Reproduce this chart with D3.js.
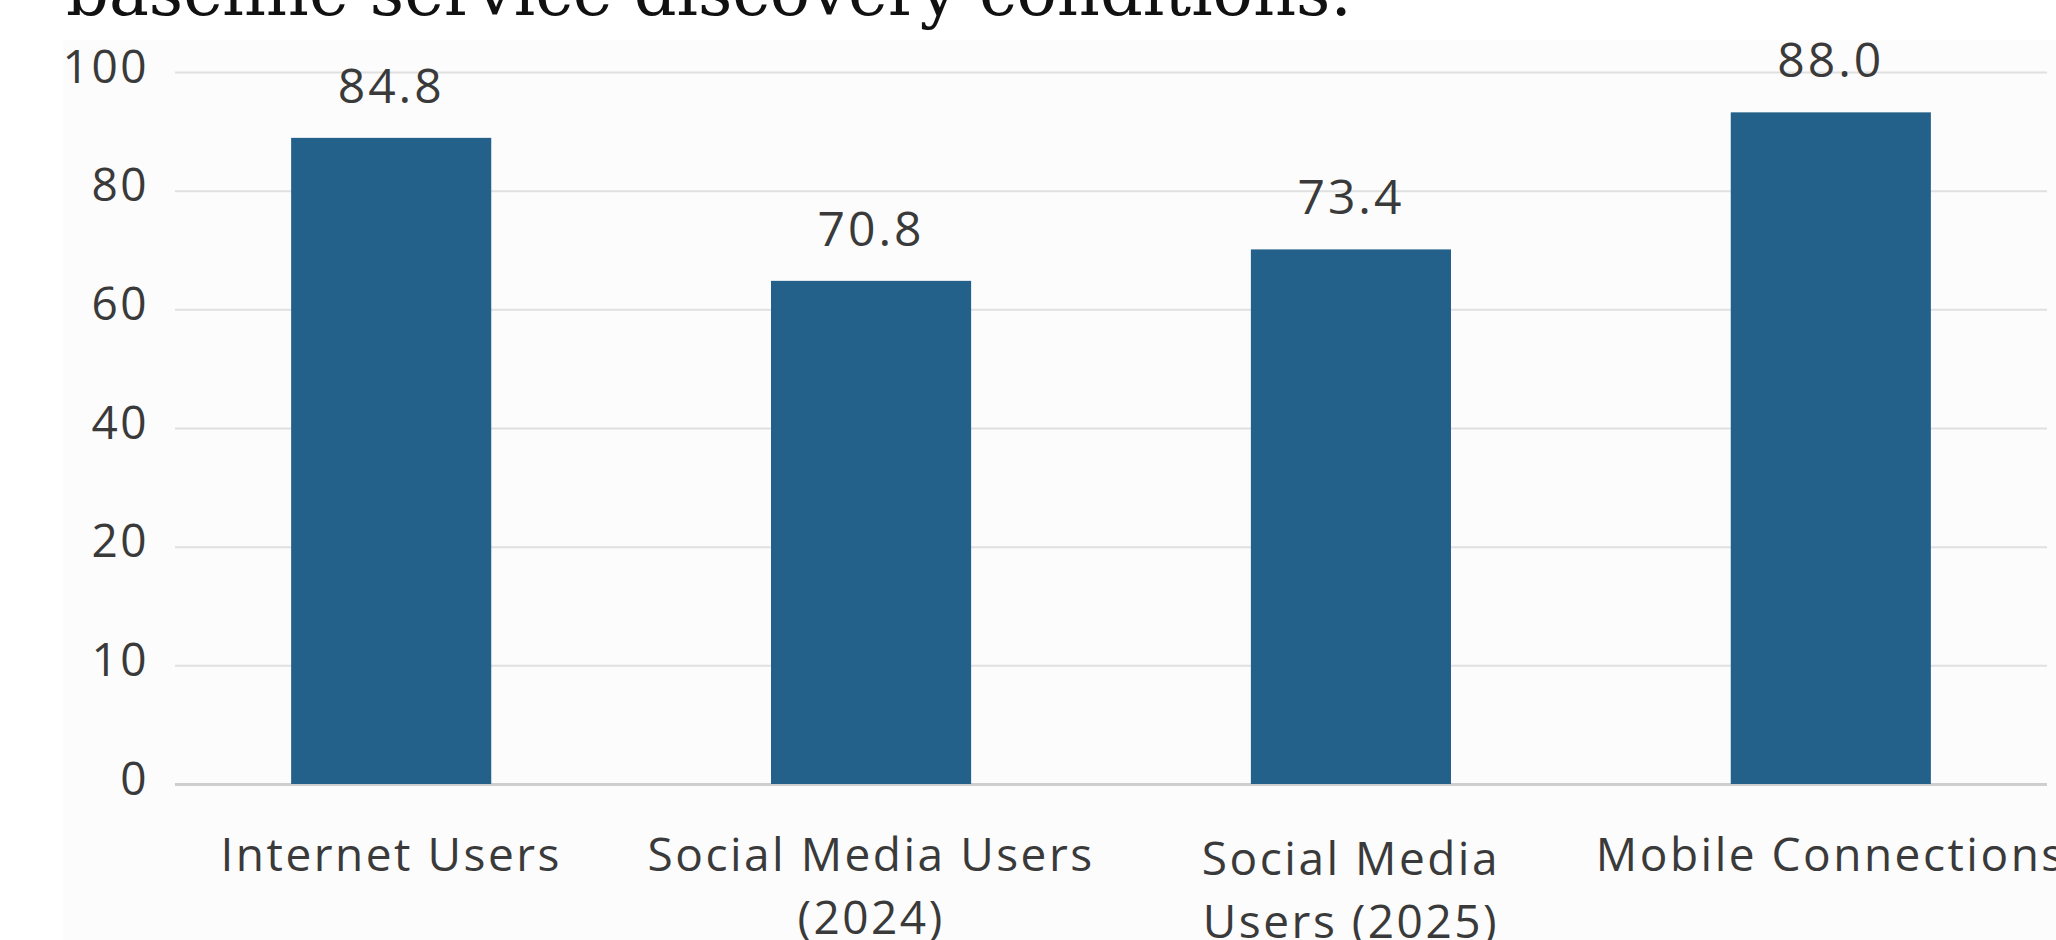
<!DOCTYPE html>
<html>
<head>
<meta charset="utf-8">
<script src="https://cdn.jsdelivr.net/npm/d3@7/dist/d3.min.js"></script>
<style>
  html, body { margin: 0; padding: 0; background: #ffffff; overflow: hidden; }
  svg { display: block; }
  .tick text { font-family: "Open Sans", sans-serif; fill: #3a3a3a; letter-spacing: 2.5px; }
</style>
</head>
<body>
<div id="chart"></div>
<script>
// Données
const categories = [
    ["Internet Users"],
    ["Social Media Users", "(2024)"],
    ["Social Media", "Users (2025)"],
    ["Mobile Connections"]
];
const barValues = [88.9, 64.8, 70.1, 93.2];      // hauteur des barres sur l'axe
const valueLabels = ["84.8", "70.8", "73.4", "88.0"]; // valeurs affichées
const yTicks = [0, 10, 20, 40, 60, 80, 100];
const titleText = "baseline service discovery conditions.";

const W = 2056, H = 940;
const margin = { top: 72, right: 9, bottom: 156, left: 175 };
const width = W - margin.left - margin.right;
const height = H - margin.top - margin.bottom;

const svg = d3.select("#chart")
    .append("svg")
    .attr("width", W)
    .attr("height", H);

// fond légèrement grisé du graphique
svg.append("rect")
    .attr("x", 63).attr("y", 40)
    .attr("width", W - 63).attr("height", H - 40)
    .attr("fill", "#fcfcfc");

// titre coupé en haut (comme sur l'original)
svg.append("text")
    .attr("x", 66)
    .attr("y", 15)
    .attr("font-family", "DejaVu Serif")
    .attr("font-size", 67)
    .attr("fill", "#111")
    .text(titleText);

const g = svg.append("g")
    .attr("transform", `translate(${margin.left},${margin.top})`);

// axe y non linéaire : graduations régulièrement espacées
const step = height / (yTicks.length - 1);
const y = d3.scaleLinear()
    .domain(yTicks)
    .range(yTicks.map((d, i) => height - i * step));

const x = d3.scaleBand()
    .domain(categories.map((d, i) => i))
    .range([0, width])
    .paddingInner(0.583)
    .paddingOuter(0.242);

// grille + étiquettes y
const yAxis = g.append("g")
    .call(d3.axisLeft(y).tickValues(yTicks).tickSize(-width).tickPadding(26).tickFormat(d3.format("d")));
yAxis.select(".domain").remove();
yAxis.selectAll(".tick line")
    .attr("stroke", d => d === 0 ? "#cfcfcf" : "#e0e0e0")
    .attr("stroke-width", d => d === 0 ? 3 : 2);
yAxis.selectAll(".tick text")
    .attr("font-size", 46)
    .attr("dy", 10);

// barres
g.selectAll("rect.bar")
    .data(barValues)
    .enter()
    .append("rect")
    .attr("class", "bar")
    .attr("x", (d, i) => x(i))
    .attr("y", d => y(d))
    .attr("width", x.bandwidth())
    .attr("height", d => y(0) - y(d))
    .attr("fill", "#23608a");

// valeurs au-dessus des barres
g.selectAll("text.val")
    .data(barValues)
    .enter()
    .append("text")
    .attr("class", "val")
    .attr("x", (d, i) => x(i) + x.bandwidth() / 2)
    .attr("y", d => y(d) - 35)
    .attr("text-anchor", "middle")
    .attr("font-family", "Open Sans, sans-serif")
    .attr("font-size", 48)
    .attr("letter-spacing", "3px")
    .attr("fill", "#3a3a3a")
    .text((d, i) => valueLabels[i]);

// axe x avec libellés sur deux lignes
const xAxis = g.append("g")
    .attr("transform", `translate(0,${height})`)
    .call(d3.axisBottom(x).tickSize(0).tickFormat(""));
xAxis.select(".domain").remove();
xAxis.selectAll(".tick text").remove();
xAxis.selectAll(".tick")
    .append("text")
    .attr("text-anchor", "middle")
    .attr("font-size", 46)
    .attr("y", (i) => i === 2 ? 91 : 87)
    .selectAll("tspan")
    .data(i => categories[i])
    .enter()
    .append("tspan")
    .attr("x", 0)
    .attr("dy", (d, j) => j === 0 ? 0 : 63)
    .text(d => d);
</script>
</body>
</html>
